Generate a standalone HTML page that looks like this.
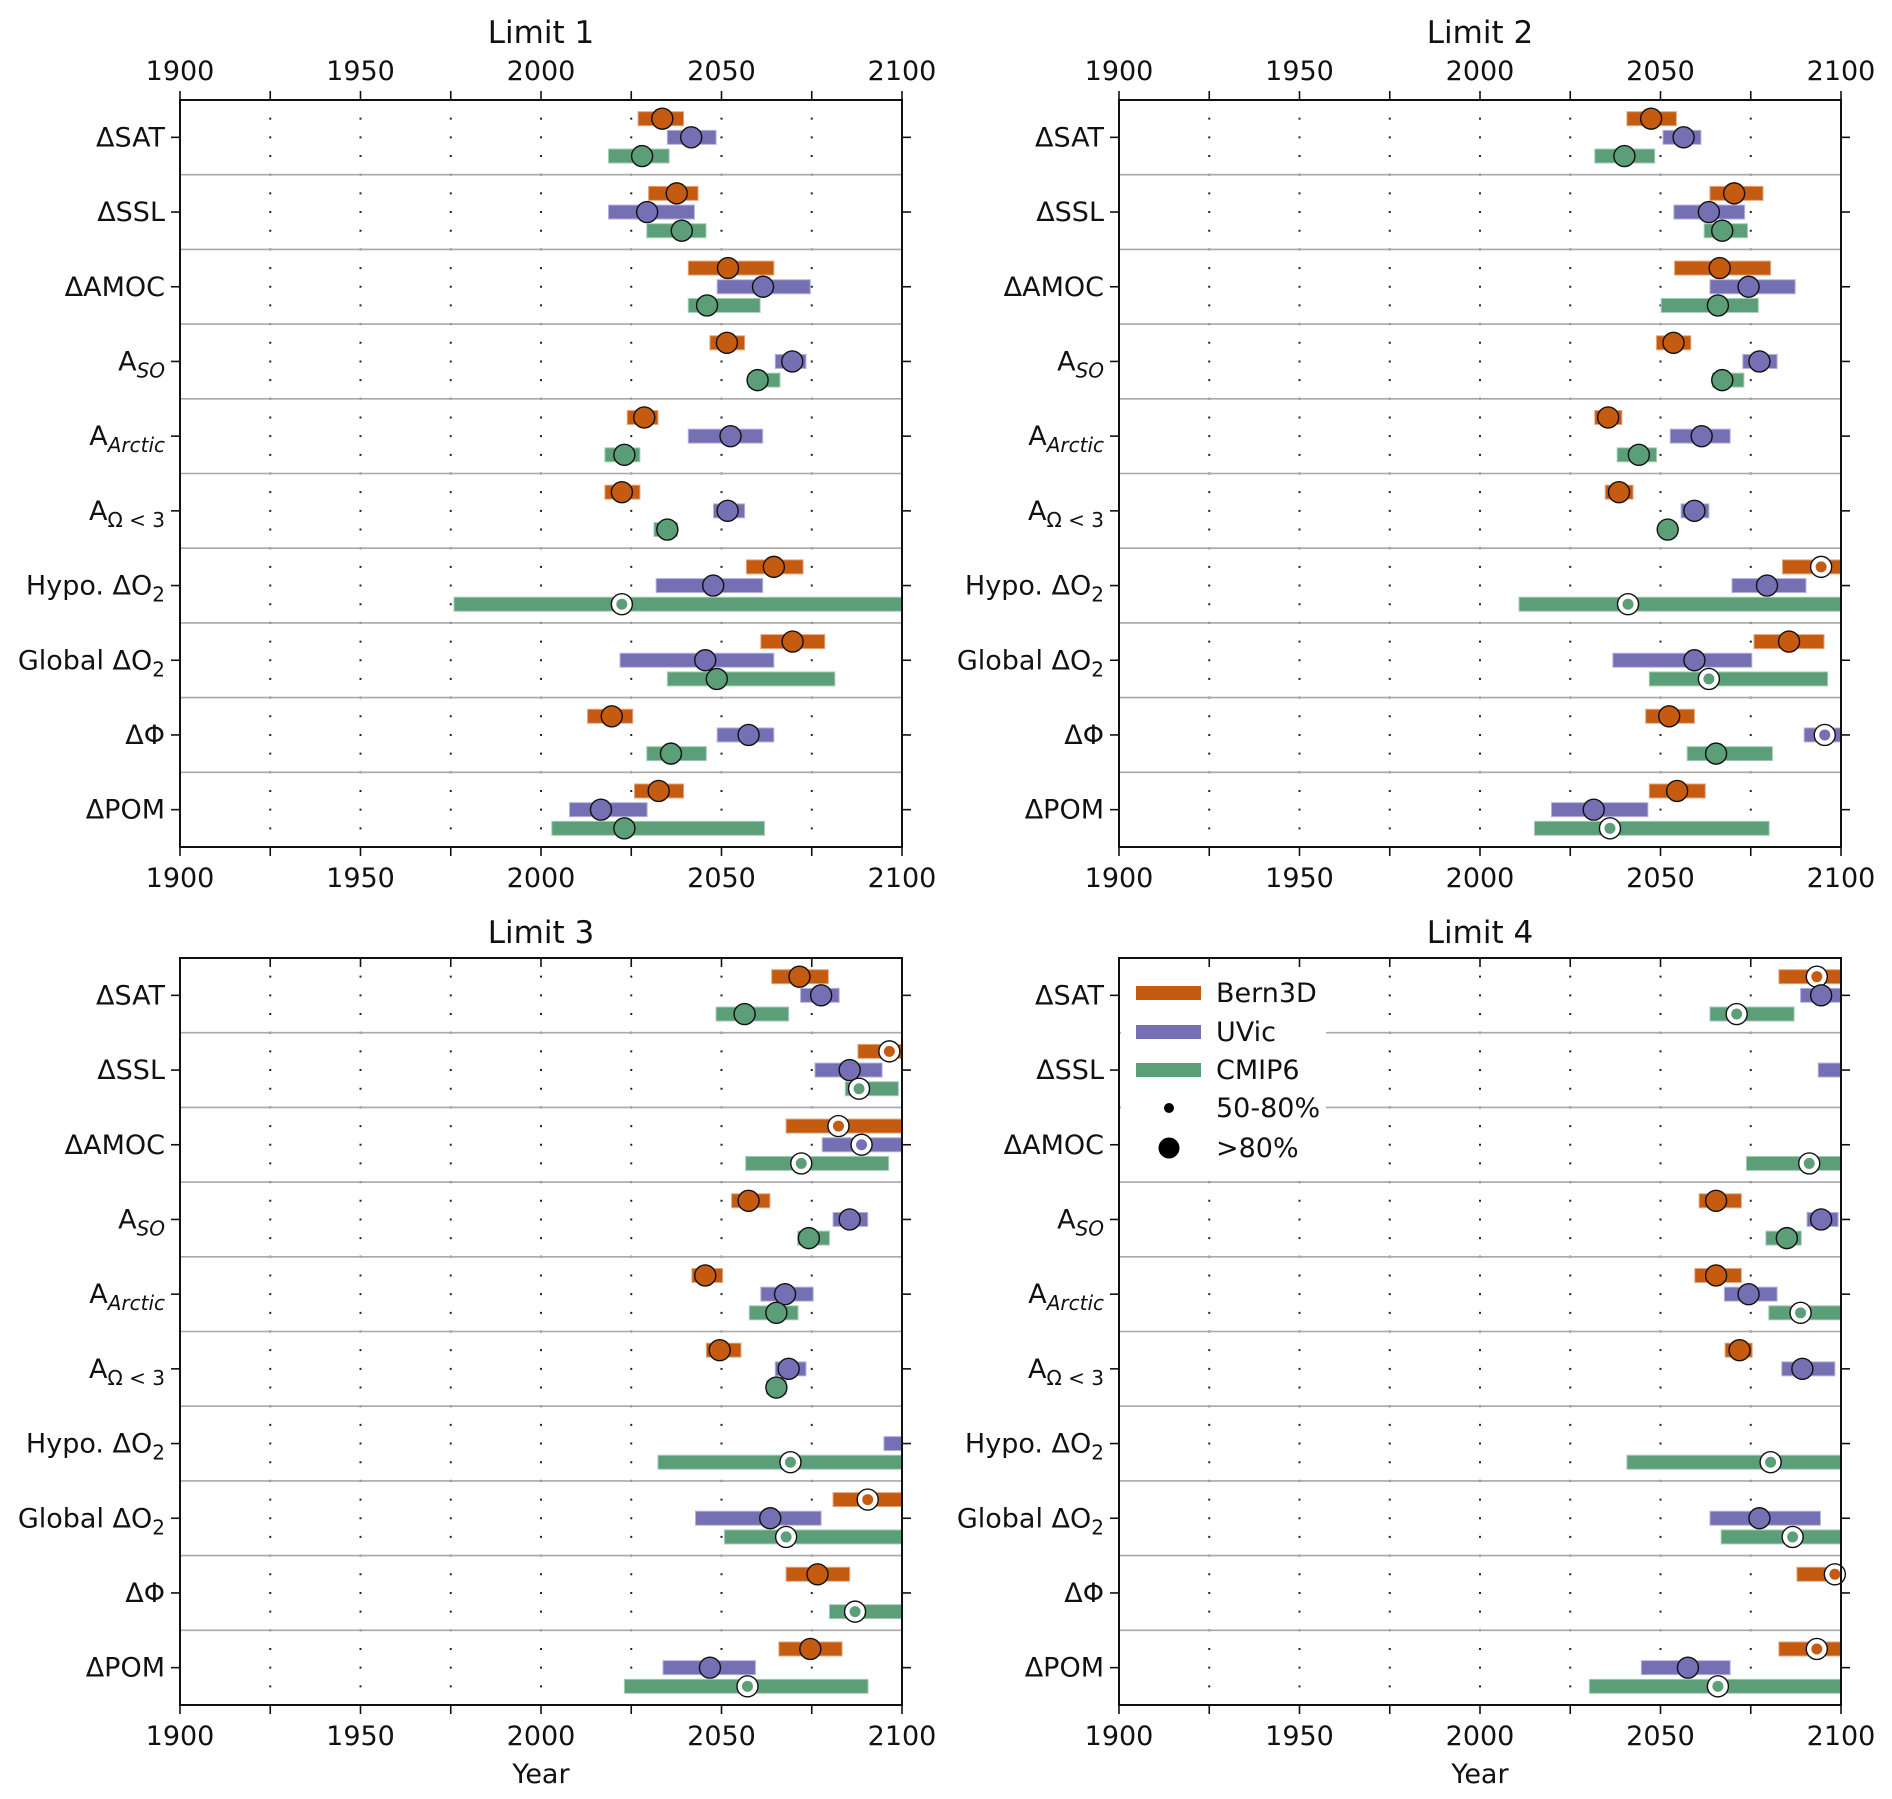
<!DOCTYPE html>
<html><head><meta charset="utf-8"><title>Limits</title>
<style>
html,body{margin:0;padding:0;background:#fff;}
svg{display:block;font-family:"DejaVu Sans","Liberation Sans",sans-serif;}
</style></head>
<body>
<svg id="chart" width="1892" height="1799" viewBox="0 0 1892 1799" xmlns="http://www.w3.org/2000/svg"></svg>
<script>
// ---- data ----
const rowLabels = ['ΔSAT','ΔSSL','ΔAMOC','A_SO','A_Arctic','A_Omega','Hypo. ΔO2','Global ΔO2','ΔΦ','ΔPOM'];
const xTicks = [1900,1950,2000,2050,2100];
const xMinor = [1925,1975,2025,2075];
const panelTitles = ['Limit 1','Limit 2','Limit 3','Limit 4'];
const modelNames = ['Bern3D','UVic','CMIP6'];
// each entry: [low, high, marker, confidence(1 = >80%, 0 = 50-80%)]
const bernL1 = [[2026.9,2039.5,2033.6,1],[2029.8,2043.5,2037.6,1],[2040.8,2064.5,2051.8,1],[2046.8,2056.4,2051.5,1],[2023.9,2032.4,2028.6,1],[2017.7,2027.4,2022.4,1],[2056.9,2072.6,2064.5,1],[2060.9,2078.6,2069.7,1],[2012.9,2025.4,2019.6,1],[2025.9,2039.5,2032.6,1]];
const uvicL1 = [[2035,2048.5,2041.6,1],[2018.7,2042.5,2029.4,1],[2048.8,2074.6,2061.5,1],[2064.9,2073.4,2069.6,1],[2040.8,2061.4,2052.5,1],[2047.8,2056.4,2051.7,1],[2031.9,2061.4,2047.7,1],[2021.9,2064.5,2045.5,1],[2048.8,2064.5,2057.5,1],[2007.9,2029.4,2016.6,1]];
const cmipL1 = [[2018.7,2035.5,2028,1],[2029.3,2045.7,2039,1],[2040.8,2060.7,2046,1],[2057.5,2066.2,2060,1],[2017.7,2027.4,2023.1,1],[2031.3,2037.8,2035,1],[1975.9,2100,2022.4,0],[2035,2081.4,2048.7,1],[2029.3,2045.8,2036,1],[2003,2061.9,2023.1,1]];
const bernL2 = [[2040.7,2054.4,2047.4,1],[2063.7,2078.4,2070.4,1],[2053.9,2080.5,2066.4,1],[2048.9,2058.4,2053.6,1],[2031.8,2039.3,2035.5,1],[2034.7,2042.4,2038.5,1],[2083.8,2100,2094.5,0],[2075.9,2095.3,2085.6,1],[2045.9,2059.4,2052.4,1],[2046.9,2062.4,2054.6,1]];
const uvicL2 = [[2050.7,2061.2,2056.4,1],[2053.7,2073.3,2063.4,1],[2063.7,2087.3,2074.4,1],[2072.8,2082.3,2077.4,1],[2052.7,2069.3,2061.4,1],[2055.7,2063.4,2059.4,1],[2069.8,2090.3,2079.5,1],[2036.8,2075.3,2059.4,1],[2089.8,2100,2095.5,0],[2019.8,2046.5,2031.5,1]];
const cmipL2 = [[2031.8,2048.4,2040,1],[2062.1,2074.1,2067.1,1],[2050.2,2077.1,2065.9,1],[2064.4,2073.1,2067.1,1],[2038,2048.9,2044,1],[2049.9,2054.4,2052,1],[2010.8,2100,2041,0],[2046.9,2096.3,2063.4,0],[2057.4,2081,2065.4,1],[2015.1,2080.1,2036,0]];
const bernL3 = [[2063.9,2079.6,2071.6,1],[2087.8,2100,2096.5,0],[2067.9,2100,2082.4,0],[2052.8,2063.4,2057.5,1],[2041.8,2050.3,2045.5,1],[2045.8,2055.4,2049.5,1],null,[2080.9,2100,2090.5,0],[2067.9,2085.5,2076.6,1],[2065.9,2083.4,2074.6,1]];
const uvicL3 = [[2071.9,2082.6,2077.6,1],[2075.9,2094.5,2085.5,1],[2077.9,2100,2088.8,0],[2080.9,2090.5,2085.5,1],[2060.9,2075.4,2067.6,1],[2064.9,2073.4,2068.6,1],[2095,2100,null,1],[2042.8,2077.6,2063.5,1],null,[2033.8,2059.4,2046.8,1]];
const cmipL3 = [[2048.5,2068.6,2056.4,1],[2084.3,2099,2088.1,0],[2056.7,2096.3,2072.1,0],[2071.1,2079.9,2074.2,1],[2057.7,2071.2,2065.2,1],[2062.5,2067.9,2065.2,1],[2032.4,2100,2069.1,0],[2050.8,2100,2067.9,0],[2079.9,2100,2087,0],[2023.1,2090.6,2057.2,0]];
const bernL4 = [[2082.8,2100,2093.3,0],null,null,[2060.7,2072.4,2065.4,1],[2059.5,2072.4,2065.4,1],[2067.9,2075.4,2071.9,1],null,null,[2087.8,2100,2098.3,0],[2082.8,2100,2093.3,0]];
const uvicL4 = [[2088.8,2100,2094.5,1],[2093.7,2100,null,1],null,[2090.6,2099.2,2094.5,1],[2067.7,2082.3,2074.4,1],[2083.6,2098.3,2089.3,1],null,[2063.7,2094.3,2077.4,1],null,[2044.7,2069.3,2057.6,1]];
const cmipL4 = [[2063.7,2087,2071.1,0],null,[2073.8,2100,2091.2,0],[2079.2,2089,2085,1],[2080,2100,2088.8,0],null,[2040.7,2100,2080.5,0],[2066.8,2100,2086.6,0],null,[2030.3,2100,2065.9,0]];

const panelSeries = [[bernL1,uvicL1,cmipL1],[bernL2,uvicL2,cmipL2],[bernL3,uvicL3,cmipL3],[bernL4,uvicL4,cmipL4]];

// ---- style / layout ----
const colors = ['#c55a11','#7570b3','#5b9e78'];
const edgeColors = ['#e3a67c','#b5b2dc','#a6cdb6'];
const panels = [
  {x0:180,y0:100,topLabels:true,yearLabel:false},
  {x0:1119,y0:100,topLabels:true,yearLabel:false},
  {x0:180,y0:958,topLabels:false,yearLabel:true},
  {x0:1119,y0:958,topLabels:false,yearLabel:true}
];
const PW=722, PH=747, NR=10, RH=PH/NR;
const FS=27;
const NS='http://www.w3.org/2000/svg';
const svg=document.getElementById('chart');

function mk(tag,attrs,parent){
  const e=document.createElementNS(NS,tag);
  for(const k in attrs) e.setAttribute(k,attrs[k]);
  (parent||svg).appendChild(e);
  return e;
}
function labelHTML(l){
  if(l==='A_SO') return 'A<tspan font-style="italic" font-size="20" dy="7">SO</tspan>';
  if(l==='A_Arctic') return 'A<tspan font-style="italic" font-size="20" dy="7">Arctic</tspan>';
  if(l==='A_Omega') return 'A<tspan font-size="20" dy="7">Ω &lt; 3</tspan>';
  if(l.endsWith('O2')) return l.slice(0,-1)+'<tspan font-size="20" dy="7">2</tspan>';
  return l;
}

panels.forEach((p,pi)=>{
  const g=mk('g',{});
  
  
  const xs=yr=>p.x0+(yr-1900)/200*PW;
  const rowY=i=>p.y0+(i+0.5)*RH;

  // title
  const t=mk('text',{x:p.x0+PW/2,y:p.topLabels?p.y0-57:p.y0-15,'text-anchor':'middle','font-size':'31',fill:'#111'},g);
  t.textContent=panelTitles[pi];
  
  

  // dotted grid
  xMinor.concat([1950,2000,2050]).forEach(yr=>{
    const l=mk('line',{x1:xs(yr),x2:xs(yr),y1:p.y0,y2:p.y0+PH,stroke:'#222','stroke-width':'2','stroke-dasharray':'2 '+(RH/4-2),'stroke-dashoffset':(-(RH/4-1)).toString()},g);
    
    
  });
  // row separators
  for(let i=1;i<NR;i++){
    const l=mk('line',{x1:p.x0,x2:p.x0+PW,y1:p.y0+i*RH,y2:p.y0+i*RH,stroke:'#a8a8a8','stroke-width':'1.6'},g);
    
    
  }
  // bars & markers
  panelSeries[pi].forEach((ser,si)=>{
    ser.forEach((d,ri)=>{
      if(!d) return;
      const cy=rowY(ri)+(si-1)*RH/4;
      const x1=xs(d[0]), x2=xs(d[1]);
      const b=mk('rect',{x:x1,y:cy-7,width:Math.max(0,x2-x1),height:14,fill:colors[si],stroke:edgeColors[si],'stroke-width':'1'},g);
      
      
      if(d[2]!==null){
        const mx=xs(d[2]);
        if(d[3]===1){
          const c=mk('circle',{cx:mx,cy:cy,r:10.5,fill:colors[si],stroke:'#111','stroke-width':'1.4'},g);
          
          
        }else{
          const c=mk('circle',{cx:mx,cy:cy,r:10.5,fill:'#fff',stroke:'#111','stroke-width':'1.4'},g);
          
          
          const c2=mk('circle',{cx:mx,cy:cy,r:5.5,fill:colors[si]},g);
          
          
        }
      }
    });
  });

  // legend in panel 4
  if(pi===3){
    const lg=mk('g',{},g);
    
    
    mk('rect',{x:p.x0+2,y:972,width:205,height:193,fill:'#fff'},lg);
    const ly=[993,1032,1070];
    modelNames.forEach((n,i)=>{
      const ln=mk('line',{x1:1136,x2:1201,y1:ly[i],y2:ly[i],stroke:colors[i],'stroke-width':'14'},lg);
      
      
      const tx=mk('text',{x:1216,y:ly[i]+9,'font-size':FS,fill:'#111'},lg);
      tx.textContent=n;
      
      
    });
    const d1=mk('circle',{cx:1169,cy:1108,r:5,fill:'#000'},lg);
    
    
    const t1=mk('text',{x:1216,y:1117,'font-size':FS,fill:'#111'},lg);
    t1.textContent='50-80%';
    
    
    const d2=mk('circle',{cx:1169,cy:1148,r:10.5,fill:'#000'},lg);
    
    
    const t2=mk('text',{x:1216,y:1157,'font-size':FS,fill:'#111'},lg);
    t2.textContent='>80%';
    
    
  }

  // frame
  const fr=mk('rect',{x:p.x0,y:p.y0,width:PW,height:PH,fill:'none',stroke:'#111','stroke-width':'2'},g);
  
  

  // y ticks and labels
  rowLabels.forEach((l,i)=>{
    const y=rowY(i);
    mk('line',{x1:p.x0-9,x2:p.x0,y1:y,y2:y,stroke:'#111','stroke-width':'1.6'},g);
    mk('line',{x1:p.x0+PW,x2:p.x0+PW+9,y1:y,y2:y,stroke:'#111','stroke-width':'1.6'},g);
    const tx=mk('text',{x:p.x0-15,y:y+9,'text-anchor':'end','font-size':FS,fill:'#111'},g);
    tx.innerHTML=labelHTML(l);
    
    
  });
  // x ticks
  xTicks.concat(xMinor).forEach(yr=>{
    const x=xs(yr);
    mk('line',{x1:x,x2:x,y1:p.y0+PH,y2:p.y0+PH+9,stroke:'#111','stroke-width':'1.6'},g);
    if(p.topLabels) mk('line',{x1:x,x2:x,y1:p.y0-9,y2:p.y0,stroke:'#111','stroke-width':'1.6'},g);
    else mk('line',{x1:x,x2:x,y1:p.y0,y2:p.y0+9,stroke:'#111','stroke-width':'1.6'},g);
  });
  xTicks.forEach(yr=>{
    const x=xs(yr);
    const b=mk('text',{x:x,y:p.y0+PH+40,'text-anchor':'middle','font-size':FS,fill:'#111'},g);
    b.textContent=yr;
    
    
    if(p.topLabels){
      const tt=mk('text',{x:x,y:p.y0-20,'text-anchor':'middle','font-size':FS,fill:'#111'},g);
      tt.textContent=yr;
      
      
    }
  });
  if(p.yearLabel){
    const yl=mk('text',{x:p.x0+PW/2,y:1783,'text-anchor':'middle','font-size':FS,fill:'#111'},g);
    yl.textContent='Year';
    
    
  }
});
</script>
</body></html>
